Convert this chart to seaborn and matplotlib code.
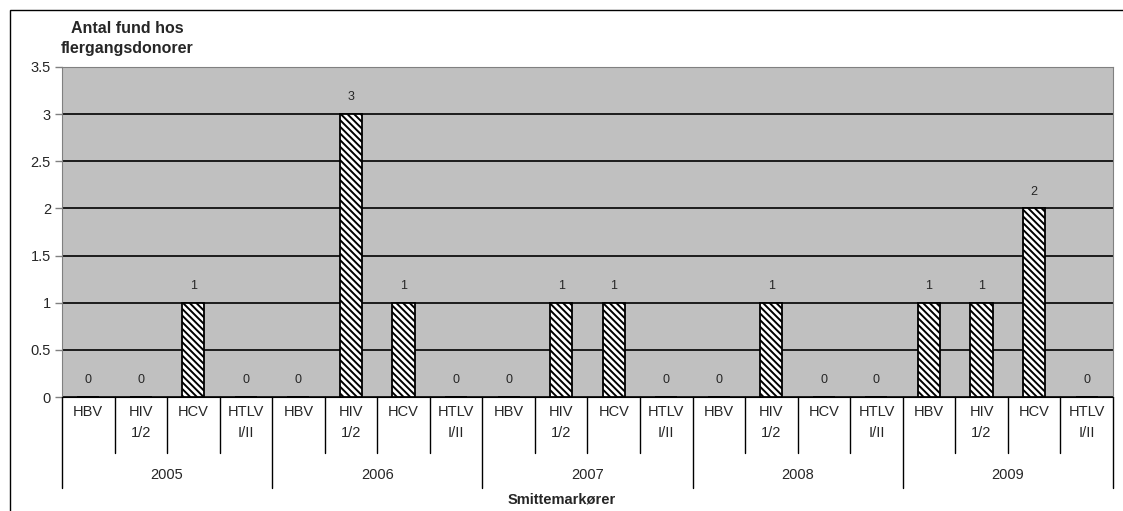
import matplotlib
matplotlib.use("Agg")
import matplotlib.pyplot as plt
import seaborn as sns
import pandas as pd
from matplotlib.patches import Rectangle

years = ["2005", "2006", "2007", "2008", "2009"]
markers = ["HBV", "HIV\n1/2", "HCV", "HTLV\nI/II"]
counts = [0, 0, 1, 0,
          0, 3, 1, 0,
          0, 1, 1, 0,
          0, 1, 0, 0,
          1, 1, 2, 0]

rows = []
for i, y in enumerate(years):
    for j, m in enumerate(markers):
        rows.append({"pos": i * len(markers) + j, "year": y, "marker": m,
                     "count": counts[i * len(markers) + j]})
df = pd.DataFrame(rows)

sns.set_style("white")
plt.rcParams["font.family"] = ["Liberation Sans", "DejaVu Sans"]
plt.rcParams["hatch.linewidth"] = 1.4

fig = plt.figure(figsize=(11.23, 5.11), dpi=100)
ax = fig.add_axes([0.0552, 0.223, 0.9358, 0.646])

sns.barplot(data=df, x="pos", y="count", order=list(range(len(df))),
            color="white", width=0.42, edgecolor="black", linewidth=1.3,
            ax=ax, zorder=3)
for p in ax.patches:
    p.set_hatch("\\\\\\\\\\")

ax.set_facecolor("#c0c0c0")
ax.set_ylim(0, 3.5)
ax.set_yticks([0, 0.5, 1, 1.5, 2, 2.5, 3, 3.5])
ax.set_yticklabels(["0", "0.5", "1", "1.5", "2", "2.5", "3", "3.5"], fontsize=10.5)
ax.yaxis.grid(True, color="black", linewidth=1.2, zorder=0)
ax.set_axisbelow(True)
ax.tick_params(axis="y", length=5, width=1, color="#808080", left=True, pad=3)
for s in ["top", "right"]:
    ax.spines[s].set_color("#808080")
ax.spines["left"].set_color("#808080")
ax.spines["bottom"].set_color("black")
ax.set_xlim(-0.5, len(df) - 0.5)
ax.set_xticks([])
ax.set_xlabel("")
ax.set_ylabel("")

for _, r in df.iterrows():
    ax.annotate(str(r["count"]), (r["pos"], r["count"]), xytext=(0, 12),
                textcoords="offset points", ha="center", va="center", fontsize=9)

# two-level category axis
trans = ax.get_xaxis_transform()
for k in range(len(df) + 1):
    x = k - 0.5
    ybot = -0.275 if k % 4 == 0 else -0.17
    ax.plot([x, x], [0, ybot], transform=trans, color="black", lw=1, clip_on=False)
for _, r in df.iterrows():
    ax.text(r["pos"], -0.025, r["marker"], transform=trans, ha="center", va="top",
            fontsize=10.5, linespacing=1.6)
for i, y in enumerate(years):
    ax.text(i * 4 + 1.5, -0.235, y, transform=trans, ha="center", va="center", fontsize=10.5)

fig.text(0.5, 0.022, "Smittemarkører", ha="center", va="center", fontsize=10.5,
         fontweight="bold")
fig.text(0.113, 0.925, "Antal fund hos\nflergangsdonorer", ha="center", va="center",
         fontsize=11.5, fontweight="bold", linespacing=1.45)

fig.patches.append(Rectangle((10 / 1123, -0.1), 1.2, 1 - 10 / 511 + 0.1,
                             transform=fig.transFigure, fill=False,
                             edgecolor="black", lw=1))

fig.savefig("out.png", dpi=100)
